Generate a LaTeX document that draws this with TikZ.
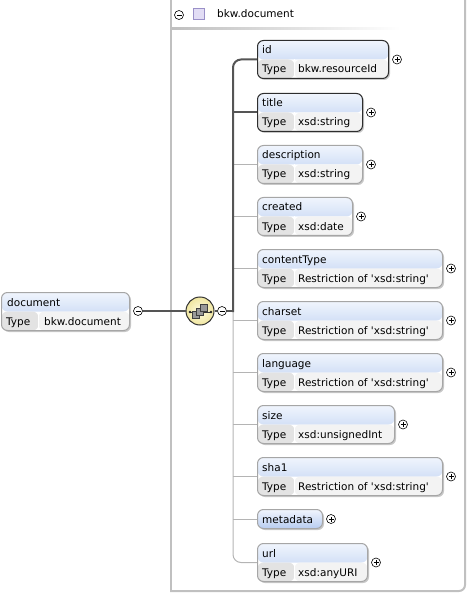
\documentclass[tikz,border=0pt]{standalone}
\usepackage{fontspec}
\setmainfont{DejaVu Sans}
\usetikzlibrary{shadows}
\definecolor{headtop}{HTML}{F0F5FD}
\definecolor{headbot}{HTML}{B7CCF0}
\definecolor{keyc}{HTML}{E3E3E3}
\definecolor{valc}{HTML}{F3F3F3}
\definecolor{reqc}{HTML}{2E2E2E}
\definecolor{optc}{HTML}{A6A6A6}
\definecolor{shadc}{HTML}{C8C8C8}
\definecolor{framec}{HTML}{C0C0C0}
\definecolor{wirec}{HTML}{555555}
\definecolor{thinc}{HTML}{B4B4B4}
\definecolor{seqin}{HTML}{FFFCE2}
\definecolor{seqout}{HTML}{F0E6A0}
\definecolor{sqin}{HTML}{E2DDF5}
\definecolor{sqout}{HTML}{9A90C8}
\newcommand{\restr}{Restriction of \textquotesingle xsd:string\textquotesingle}
\tikzset{
	lbl/.style={anchor=base west, inner sep=0pt, font=\fontsize{10.5}{12}\selectfont},
	elbox/.style={rectangle, rounded corners=6pt, inner sep=0pt, minimum height=38pt,
		fill=white, line width=1pt,
		general shadow={fill=shadc, shadow xshift=1.5pt, shadow yshift=-1.5pt},
		path picture={
			\shade[top color=headtop, bottom color=headbot] (path picture bounding box.north west) rectangle ([yshift=-19pt]path picture bounding box.north east);
			\fill[keyc] ([yshift=-19pt]path picture bounding box.north west) rectangle ([xshift=37pt]path picture bounding box.south west);
			\fill[valc] ([xshift=37pt,yshift=-19pt]path picture bounding box.north west) rectangle (path picture bounding box.south east);
			\draw[white, line width=1pt] ([xshift=37pt,yshift=-19pt]path picture bounding box.north west) -- ([xshift=37pt]path picture bounding box.south west);
		}},
	elreq/.style={elbox, draw=reqc},
	elopt/.style={elbox, draw=optc},
	elone/.style={rectangle, rounded corners=6pt, inner sep=0pt, minimum height=19pt,
		draw=optc, line width=1pt, top color=headtop, bottom color=headbot,
		general shadow={fill=shadc, shadow xshift=1.5pt, shadow yshift=-1.5pt}},
	pmminus/.style={circle, draw=black, fill=white, line width=0.6pt, inner sep=0pt, minimum size=9pt,
		path picture={\draw[line width=0.7pt] ([xshift=-2.5pt]path picture bounding box.center) -- ([xshift=2.5pt]path picture bounding box.center);}},
	pmplus/.style={circle, draw=black, fill=white, line width=0.6pt, inner sep=0pt, minimum size=9pt,
		path picture={\draw[line width=0.7pt] ([xshift=-2.5pt]path picture bounding box.center) -- ([xshift=2.5pt]path picture bounding box.center)
			([yshift=-2.5pt]path picture bounding box.center) -- ([yshift=2.5pt]path picture bounding box.center);}},
	seqc/.style={circle, draw=black!80, line width=1pt, minimum size=28pt, inner sep=0pt,
		inner color=seqin, outer color=seqout},
	typesq/.style={rectangle, draw=sqout, fill=sqin, minimum size=11pt, inner sep=0pt, line width=0.8pt},
	wire/.style={wirec, line width=2pt},
	thinwire/.style={thinc, line width=1pt},
	frame/.style={framec, line width=2pt, line cap=rect},
}
\begin{document}
\begin{tikzpicture}[x=1pt,y=-1pt]
	\useasboundingbox (0,0) rectangle (467,593);
	% frame of the complex type
	\draw[frame] (171,-5) -- (171,591);
	\draw[frame, rounded corners=6pt] (171,591) -| (465,-5);
	\node[pmminus] (hdm) at (179,15) {};
	\node[typesq] (hdsq) at (199,14) {};
	\node[lbl] (hdl) at (217,18) {bkw.document};
	\shade[left color=black!25, right color=white] (172,28) rectangle (400,30);
	% root element
	\node[elopt, minimum width=128pt, anchor=north west] (doc) at (1,292) {};
	\node[lbl] (doc-l) at ([xshift=6pt,yshift=-14pt]doc.north west) {document};
	\node[lbl] (doc-k) at ([xshift=5pt,yshift=6pt]doc.south west) {Type};
	\node[lbl] (doc-v) at ([xshift=43pt,yshift=6pt]doc.south west) {bkw.document};
	\node[pmminus] (docm) at (138,311) {};
	% sequence
	\node[seqc] (seq) at (200,311) {};
	\draw[black!80, line width=0.7pt] (190,312) -- (211,312);
	\foreach \k in {-1,0,1}
	\filldraw[fill=black!40, draw=black!75, line width=0.5pt] (196.5+4*\k, 308-3.5*\k) rectangle +(7,7);
	\fill[black!85] (190,312) circle (1.4pt) (211,312) circle (1.4pt);
	\node[pmminus] (seqm) at (222,311) {};
	\coordinate (spine) at (233,311);
	% children
	\foreach \n/\yt/\bw/\nm/\tp/\kind in {
		id/40/131/id/bkw.resourceId/elreq,
		title/93/105/title/xsd:string/elreq,
		desc/145/105/description/xsd:string/elopt,
		created/197/95/created/xsd:date/elopt,
		ctype/249/185/contentType/\restr/elopt,
		charset/301/185/charset/\restr/elopt,
		lang/353/185/language/\restr/elopt,
		size/405/137/size/xsd:unsignedInt/elopt,
		sha/457/185/sha1/\restr/elopt,
		url/543/110/url/xsd:anyURI/elopt}{
		\node[\kind, minimum width=\bw pt, anchor=north west] (\n) at (257,\yt) {};
		\node[lbl] (\n-l) at ([xshift=5pt,yshift=-14pt]\n.north west) {\nm};
		\node[lbl] (\n-k) at ([xshift=5pt,yshift=6pt]\n.south west) {Type};
		\node[lbl] (\n-v) at ([xshift=41pt,yshift=6pt]\n.south west) {\tp};
		\node[pmplus] (\n-p) at ([xshift=8pt]\n.east) {};
	}
	\node[elone, minimum width=65pt, anchor=north west] (meta) at (257,509) {};
	\node[lbl] (meta-l) at ([xshift=5pt,yshift=-14pt]meta.north west) {metadata};
	\node[pmplus] (meta-p) at ([xshift=8pt]meta.east) {};
	% connectors
	\foreach \n in {desc,created,ctype,charset,lang,size,sha,meta}
	\draw[thinwire] (spine |- \n.west) -- (\n.west);
	\draw[thinwire, rounded corners=8pt] (spine) |- (url.west);
	\draw[wire] (docm) -- (seq);
	\draw[wire] (seq) -- (seqm);
	\draw[wire] (seqm) -- (spine);
	\draw[wire, rounded corners=8pt] ([yshift=-1pt]spine) |- (id.west);
	\draw[wire] (spine |- title.west) -- (title.west);
\end{tikzpicture}
\end{document}
